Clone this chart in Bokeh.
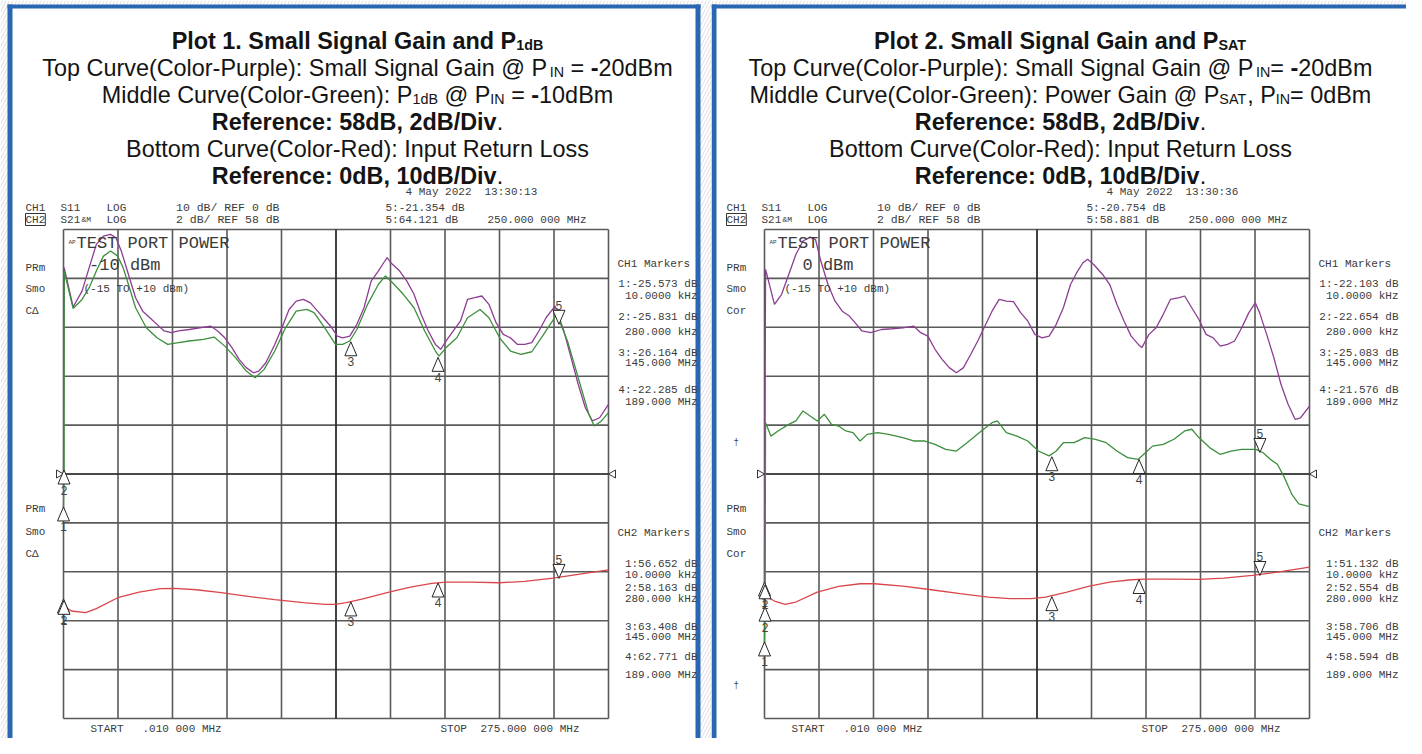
from bokeh.plotting import figure
from bokeh.models import Label, Range1d
from bokeh.layouts import row
from bokeh.embed import file_html
from bokeh.resources import INLINE

# ------------------------------------------------------------------ data
# frequency axis (MHz), sweep .010 MHz -> 275 MHz
F0, F1 = 0.01, 275.0

# Plot 1 - purple: small signal gain (S21, dB)
p1_purple_f = [0.01, 0.36, 4.86, 9.37, 12.97, 16.57, 20.17, 23.77, 26.47, 29.18, 32.78, 36.38, 39.98, 43.58,
               47.19, 50.79, 54.39, 57.99, 63.40, 68.80, 74.20, 77.80, 81.41, 85.01, 88.61, 92.21, 95.81,
               98.51, 102.12, 106.62, 110.22, 113.82, 117.43, 121.03, 124.63, 128.23, 131.83, 135.44,
               138.14, 140.84, 144.44, 148.04, 151.64, 155.25, 158.85, 161.55, 163.35, 165.15, 169.65,
               173.26, 176.86, 180.46, 184.06, 187.66, 190.36, 193.07, 196.67, 200.27, 203.87, 207.48,
               211.08, 214.68, 218.28, 221.88, 225.49, 229.09, 232.69, 236.29, 239.89, 243.50, 248.00,
               252.50, 256.10, 259.71, 263.31, 266.91, 270.51, 275.0]
p1_purple_db = [57.5, 66.44, 64.83, 65.48, 66.44, 67.39, 67.73, 67.80, 67.66, 67.12, 66.16, 65.21, 64.66, 64.39,
                64.12, 63.85, 63.78, 63.85, 63.91, 63.98, 64.05, 63.85, 63.57, 63.17, 62.69, 62.35, 62.14,
                62.21, 62.55, 63.30, 63.98, 64.73, 65.07, 65.14, 65.00, 64.66, 64.32, 63.98, 63.64, 63.57,
                63.64, 64.12, 64.80, 65.89, 66.30, 66.64, 66.85, 66.64, 66.30, 65.89, 65.35, 64.53, 63.85,
                63.30, 63.10, 63.44, 63.85, 64.25, 65.14, 65.21, 65.28, 64.94, 64.19, 63.71, 63.57, 63.30,
                63.30, 63.37, 63.85, 64.39, 64.87, 63.85, 62.76, 61.67, 60.71, 60.17, 60.30, 60.85]

# Plot 1 - green: P1dB gain (S21, dB)
p1_green_f = [0.01, 0.28, 0.36, 4.86, 9.37, 12.97, 16.57, 20.17, 23.77, 27.38, 30.08, 32.78, 36.38, 41.78,
              47.19, 52.59, 57.99, 63.40, 70.60, 76.00, 81.41, 86.81, 92.21, 96.71, 101.22, 106.62, 112.02,
              117.43, 122.83, 126.43, 131.83, 137.24, 140.84, 144.44, 148.04, 153.45, 158.85, 162.45,
              166.05, 171.46, 176.86, 182.26, 187.66, 189.47, 193.07, 198.47, 203.87, 210.18, 214.68,
              220.08, 225.49, 230.89, 236.29, 241.69, 248.90, 254.30, 259.71, 265.11, 267.81, 271.41, 275.0]
p1_green_db = [56.65, 58.16, 66.30, 64.77, 65.14, 65.62, 66.30, 66.91, 67.12, 66.91, 66.44, 65.75, 64.80,
               63.98, 63.57, 63.30, 63.37, 63.44, 63.51, 63.60, 63.23, 62.76, 62.21, 61.94, 62.28, 63.03,
               63.98, 64.66, 64.73, 64.60, 63.98, 63.30, 63.30, 63.44, 63.91, 64.94, 65.75, 66.10, 65.82,
               65.35, 64.80, 63.85, 63.03, 62.82, 63.17, 63.57, 64.39, 64.73, 64.39, 63.57, 63.03, 62.89,
               63.00, 63.64, 64.53, 63.44, 61.94, 60.44, 59.96, 60.17, 60.51]

# Plot 1 - red: input return loss (S11, dB)
p1_red_f = [0.01, 3.96, 11.17, 16.57, 27.38, 38.18, 48.99, 56.19, 67.00, 79.60, 92.21, 106.62, 121.03,
            131.83, 137.24, 142.64, 151.64, 164.25, 175.06, 185.86, 193.07, 205.67, 220.08, 232.69,
            247.10, 259.71, 275.0]
p1_red_db = [-26.9, -28.02, -28.36, -27.54, -25.30, -24.14, -23.46, -23.40, -23.67, -24.28, -24.96, -25.71,
             -26.32, -26.66, -26.66, -26.32, -25.50, -24.14, -23.12, -22.38, -22.10, -22.10, -22.24,
             -21.97, -21.29, -20.54, -19.59]

# Plot 2 - purple: small signal gain (S21, dB)
p2_purple_f = [0.01, 0.54, 5.04, 8.64, 12.24, 15.84, 19.44, 23.04, 25.74, 28.44, 32.03, 35.63, 39.23, 42.83,
               46.43, 49.13, 53.63, 59.03, 64.43, 69.83, 75.23, 78.83, 82.43, 86.03, 89.63, 93.22, 96.82,
               100.42, 104.02, 107.62, 111.22, 114.82, 118.42, 122.02, 125.62, 129.22, 132.82, 136.42,
               140.02, 143.62, 147.22, 150.81, 154.41, 158.01, 160.71, 163.05, 166.11, 170.61, 174.21,
               177.81, 181.41, 185.01, 188.61, 190.41, 194.01, 197.61, 201.21, 204.81, 209.31, 212.00,
               215.60, 219.20, 222.80, 226.40, 230.00, 233.60, 237.20, 240.80, 244.40, 247.64, 249.80,
               253.40, 257.00, 260.60, 264.20, 267.80, 270.50, 275.00]
p2_purple_db = [53.5, 66.37, 64.94, 65.35, 66.16, 66.98, 67.53, 67.69, 67.59, 66.71, 65.75, 65.07, 64.66,
                64.46, 64.12, 63.85, 63.78, 63.91, 63.94, 63.98, 64.05, 63.78, 63.64, 63.10, 62.69, 62.35,
                62.14, 62.35, 62.89, 63.44, 64.05, 64.66, 65.14, 65.07, 65.05, 64.60, 64.26, 63.71, 63.57,
                63.64, 64.12, 64.80, 65.75, 66.30, 66.64, 66.78, 66.57, 66.16, 65.75, 64.94, 64.26, 63.64,
                63.30, 63.17, 63.71, 63.98, 64.53, 65.14, 65.21, 65.28, 64.80, 64.32, 63.71, 63.57, 63.23,
                63.30, 63.44, 63.98, 64.60, 65.00, 64.60, 63.71, 62.76, 61.67, 60.85, 60.23, 60.30, 60.78]

# Plot 2 - green: power gain @ PSAT (S21, dB)
p2_green_f = [0.01, 0.28, 0.54, 3.24, 6.84, 12.24, 15.84, 19.44, 23.04, 26.64, 30.24, 33.83, 37.43, 41.03,
              44.63, 48.23, 51.83, 57.23, 62.63, 69.83, 75.23, 80.63, 86.03, 91.42, 96.82, 102.22, 109.42,
              114.82, 117.52, 122.02, 127.42, 132.82, 138.22, 143.62, 147.22, 150.81, 156.21, 161.61,
              167.01, 172.41, 177.81, 183.21, 188.61, 192.21, 195.81, 201.21, 206.61, 212.00, 215.60,
              219.20, 224.60, 230.00, 235.40, 240.80, 248.00, 251.60, 255.20, 258.80, 262.40, 266.00,
              269.60, 275.00]
p2_green_db = [51.13, 52.55, 60.10, 59.55, 59.76, 60.03, 60.17, 60.58, 60.37, 60.17, 60.44, 60.03, 59.96,
               59.76, 59.69, 59.35, 59.62, 59.69, 59.62, 59.49, 59.35, 59.35, 59.21, 59.01, 58.94, 59.28,
               59.76, 60.10, 60.17, 59.69, 59.55, 59.35, 58.94, 58.74, 58.94, 59.28, 59.28, 59.49, 59.42,
               59.28, 58.94, 58.67, 58.60, 58.87, 59.14, 59.21, 59.42, 59.76, 59.83, 59.49, 59.08, 58.80,
               58.94, 59.01, 59.01, 58.87, 58.60, 58.40, 57.85, 57.18, 56.78, 56.67]

# Plot 2 - red: input return loss (S11, dB)
p2_red_f = [0.01, 5.04, 10.44, 15.84, 26.64, 37.43, 48.23, 55.43, 69.83, 84.23, 98.62, 113.02, 123.82,
            134.62, 141.82, 152.61, 163.41, 174.21, 185.01, 192.21, 204.81, 219.20, 231.80, 246.20,
            258.80, 275.00]
p2_red_db = [-24.82, -25.98, -26.66, -26.18, -24.14, -22.99, -22.44, -22.44, -22.92, -23.67, -24.48,
             -25.16, -25.50, -25.50, -25.16, -24.14, -22.99, -22.10, -21.63, -21.49, -21.49, -21.56,
             -21.29, -20.74, -20.06, -19.04]

# marker readouts
mk_freq = [0.01, 0.28, 145.0, 189.0, 250.0]
mk_freq_lbl = ["10.0000 kHz", "280.000 kHz", "145.000 MHz", "189.000 MHz", "250.000 000 MHz"]
p1_ch1_mk = [-25.573, -25.831, -26.164, -22.285, -21.354]
p1_ch2_mk = [56.652, 58.163, 63.408, 62.771, 64.121]
p2_ch1_mk = [-22.103, -22.654, -25.083, -21.576, -20.754]
p2_ch2_mk = [51.132, 52.554, 58.706, 58.594, 58.881]

# channel settings
S21_REF, S21_DIV = 58.0, 2.0
S11_REF, S11_DIV = 0.0, 10.0

# ------------------------------------------------------------------ layout constants
FW, FH = 545, 489            # graticule size in px
FIG_H = 738
FTOP = 229
SANS, MONO = "Liberation Sans", "Liberation Mono"
INK = "#3b3b3b"
PURPLE, GREEN, RED = "#8e3d94", "#3d8f3d", "#d9464b"
GRIDC = "#5a5a5a"
BLUE = "#2a67b3"

S21_TOP = S21_REF + 5 * S21_DIV
S21_BOT = S21_REF - 5 * S21_DIV
S11_TOP = S11_REF + 5 * S11_DIV
S11_BOT = S11_REF - 5 * S11_DIV
SX = (F1 - F0) / FW                 # MHz per px
SY = (S21_TOP - S21_BOT) / FH       # dB per px (S21)
SY11 = (S11_TOP - S11_BOT) / FH     # dB per px (S11)

ARIAL = {' ': 278, '(': 333, ')': 333, '-': 333, '.': 278, ',': 278, '/': 278, ':': 278, '=': 584,
         '@': 1015, 'A': 667, 'B': 667, 'C': 722, 'D': 722, 'E': 667, 'F': 611, 'G': 778, 'H': 722,
         'I': 278, 'L': 556, 'M': 833, 'N': 722, 'O': 778, 'P': 667, 'R': 722, 'S': 667, 'T': 611,
         'a': 556, 'b': 556, 'c': 500, 'd': 556, 'e': 556, 'f': 278, 'g': 556, 'h': 556, 'i': 222,
         'l': 222, 'm': 833, 'n': 556, 'o': 556, 'p': 556, 'r': 333, 's': 500, 't': 278, 'u': 556,
         'v': 500, 'w': 722, 'y': 500}
ARIAL_B = {' ': 278, '(': 333, ')': 333, '-': 333, '.': 278, ',': 278, '/': 278, ':': 333, '=': 584,
           '@': 975, 'A': 722, 'B': 722, 'C': 722, 'D': 722, 'E': 667, 'F': 611, 'G': 778, 'I': 278,
           'L': 611, 'M': 833, 'N': 722, 'P': 667, 'R': 722, 'S': 667, 'T': 611,
           'a': 556, 'b': 611, 'c': 556, 'd': 611, 'e': 556, 'f': 333, 'g': 611, 'i': 278, 'l': 278,
           'm': 889, 'n': 611, 'o': 611, 'r': 389, 's': 556, 't': 333, 'u': 611, 'v': 556}


def text_w(s, size, bold):
    tbl = ARIAL_B if bold else ARIAL
    return sum(tbl.get(c, 556) for c in s) * size / 1000.0


def X(dx):
    return F0 + dx * SX


def Y(dy):
    return S21_TOP - dy * SY


def lab(p, dx, dy, text, size=11, font=MONO, align="left", baseline="middle", color=INK, bold=False, **kw):
    p.add_layout(Label(x=X(dx), y=Y(dy), text=text, text_font=font, text_font_size=f"{size}px",
                       text_align=align, text_baseline=baseline, text_color=color,
                       text_font_style="bold" if bold else "normal", **kw))


BIG, SUB = 23.4, 14.3


def title_line(p, segs, dy_base, cx):
    total = sum(text_w(s, SUB if sub else BIG, b) for s, b, sub in segs)
    x = cx - total / 2
    for s, b, sub in segs:
        size = SUB if sub else BIG
        w = text_w(s, size, b)
        lead = len(s) - len(s.lstrip(" "))
        t = s.strip(" ")
        if t:
            lab(p, x + text_w(" " * lead, size, b), dy_base + (4 if sub else 0), t, size=size, font=SANS,
                baseline="alphabetic", color="#141414", bold=b)
        x += w


def tri(p, f, v, up, rng, num):
    k = SY11 if rng == "s11" else SY
    hx = 6 * SX
    h = 14 * k
    if up:
        ys = [v, v - h, v - h]
        ny = v - 20 * k
    else:
        ys = [v, v + h, v + h]
        ny = v + 19 * k
    xs = [f, f - hx, f + hx]
    p.patch(xs, ys, fill_color="white", line_color="#262626", line_width=1,
            y_range_name=("s11" if rng == "s11" else "default"))
    p.text([f], [ny], text=[num], text_font_size="12px", text_align="center", text_baseline="middle",
           text_color="#444444", y_range_name=("s11" if rng == "s11" else "default"))


def rect(p, dx0, dx1, dy0, dy1, **kw):
    p.quad(left=[X(dx0)], right=[X(dx1)], top=[Y(dy0)], bottom=[Y(dy1)], **kw)


def make_panel(fig_w, frame_left, spec):
    L, T = frame_left, FTOP
    p = figure(width=fig_w, height=FIG_H,
               x_range=Range1d(F0 - L * SX, F0 + (fig_w - L) * SX),
               y_range=Range1d(S21_TOP - (FIG_H - T) * SY, S21_TOP + T * SY),
               output_backend="svg", toolbar_location=None, title_location=None,
               x_axis_location=None, y_axis_location=None,
               min_border=0, min_border_left=0, min_border_right=0, min_border_top=0, min_border_bottom=0)
    p.extra_y_ranges = {"s11": Range1d(S11_TOP - (FIG_H - T) * SY11, S11_TOP + T * SY11)}
    p.xgrid.visible = False
    p.ygrid.visible = False
    p.background_fill_color = "white"
    p.border_fill_color = "white"
    p.outline_line_color = None

    # blue panel frame and hatched surround
    for (a, b, c, d) in spec["hatch"]:
        rect(p, a, b, c, d, fill_color="white", line_alpha=0, hatch_pattern="/", hatch_color="#d4d4d4",
             hatch_scale=7, hatch_weight=0.8)
    for (a, b, c, d) in spec["frame"]:
        rect(p, a, b, c, d, fill_color=BLUE, line_alpha=0)

    # graticule
    xt = [F0 + i * (F1 - F0) / 10 for i in range(11)]
    yt = [S21_BOT + i * S21_DIV for i in range(11)]
    p.segment(x0=xt, y0=[S21_BOT] * 11, x1=xt, y1=[S21_TOP] * 11, line_color=GRIDC, line_width=1.6)
    p.segment(x0=[F0] * 11, y0=yt, x1=[F1] * 11, y1=yt, line_color=GRIDC, line_width=1.6)
    p.segment(x0=[xt[5]], y0=[S21_BOT], x1=[xt[5]], y1=[S21_TOP], line_color="#111111", line_width=1.1)
    p.segment(x0=[F0], y0=[S21_REF], x1=[F1], y1=[S21_REF], line_color="#111111", line_width=1.1)

    # traces
    p.line(spec["purple_f"], spec["purple_db"], line_color=PURPLE, line_width=1.3)
    p.line(spec["green_f"], spec["green_db"], line_color=GREEN, line_width=1.3)
    p.line(spec["red_f"], spec["red_db"], line_color=RED, line_width=1.3, y_range_name="s11")

    # reference position arrows
    p.patch([F0 - 7 * SX, F0 - 7 * SX, F0], [S21_REF + 4 * SY, S21_REF - 4 * SY, S21_REF],
            fill_color="white", line_color="#333333", line_width=1)
    p.patch([F1 + 7 * SX, F1 + 7 * SX, F1], [S21_REF + 4 * SY, S21_REF - 4 * SY, S21_REF],
            fill_color="white", line_color="#333333", line_width=1)

    # markers (1-4 below trace, active marker 5 above)
    for i in range(5):
        up = i < 4
        tri(p, mk_freq[i], spec["ch2_mk"][i], up, "default", str(i + 1))
        tri(p, mk_freq[i], spec["ch1_mk"][i], up, "s11", str(i + 1))

    # title block
    for j, segs in enumerate(spec["title"]):
        title_line(p, segs, -189 + 27 * j, spec["cx"])

    # instrument header
    lab(p, 342, -38, "4 May 2022")
    lab(p, 421, -38, spec["time"])
    lab(p, -38, -22, "CH1")
    lab(p, -3, -22, "S11")
    lab(p, 43, -22, "LOG")
    lab(p, 216, -22, f"{S11_DIV:.0f} dB/ REF {S11_REF:.0f} dB", align="right", size=11.5)
    lab(p, -38, -10, "CH2", border_line_color="#333333", border_line_width=1)
    lab(p, -3, -10, "S21")
    lab(p, 18, -10, "&M", size=8)
    lab(p, 43, -10, "LOG")
    lab(p, 216, -10, f"{S21_DIV:.0f} dB/ REF {S21_REF:.0f} dB", align="right", size=11.5)
    lab(p, 322, -22, f"5:{spec['ch1_mk'][4]:.3f} dB")
    lab(p, 322, -10, f"5:{spec['ch2_mk'][4]:.3f} dB")
    lab(p, 424, -10, mk_freq_lbl[4])

    # stimulus text inside graticule
    lab(p, 5, 13, "AP", size=6)
    lab(p, 13, 14, "TEST PORT POWER", size=17)
    lab(p, spec["pow_end"], 36, spec["power"], size=17, align="right")
    lab(p, 20, 59, "(-15 TO +10 dBm)", size=11)

    # side annotations
    for dy, t in zip([38, 59, 81], ["PRm", "Smo", spec["cal"]]):
        lab(p, -38, dy, t)
    for dy, t in zip([279, 302, 324], ["PRm", "Smo", spec["cal"]]):
        lab(p, -38, dy, t)
    for dy in spec["daggers"]:
        lab(p, -31, dy, "\u2020", size=9)

    # marker tables
    lab(p, 554, 34, "CH1 Markers")
    for i, (vy, fy) in enumerate(zip([54, 87, 123, 160], [66, 102, 133, 172])):
        lab(p, 634, vy, f"{i + 1}:{spec['ch1_mk'][i]:.3f} dB", align="right")
        lab(p, 634, fy, mk_freq_lbl[i], align="right")
    lab(p, 554, 303, "CH2 Markers")
    for i, (vy, fy) in enumerate(zip([334, 358, 397, 427], [345, 369, 407, 445])):
        lab(p, 634, vy, f"{i + 1}:{spec['ch2_mk'][i]:.3f} dB", align="right")
        lab(p, 634, fy, mk_freq_lbl[i], align="right")

    # sweep limits
    lab(p, 27, 499, "START")
    lab(p, 79, 499, ".010 000 MHz")
    lab(p, 377, 499, "STOP")
    lab(p, 417, 499, f"{F1:.3f} 000 MHz")
    return p


R, B = False, True
common_tail = [
    [("Reference: 58dB, 2dB/Div", B, False), (".", R, False)],
    [("Bottom Curve(Color-Red): Input Return Loss", R, False)],
    [("Reference: 0dB, 10dB/Div", B, False), (".", R, False)],
]
spec1 = dict(
    purple_f=p1_purple_f, purple_db=p1_purple_db, green_f=p1_green_f, green_db=p1_green_db,
    red_f=p1_red_f, red_db=p1_red_db, ch1_mk=p1_ch1_mk, ch2_mk=p1_ch2_mk,
    time="13:30:13", power="-10 dBm", pow_end=97, cal="C\u0394", daggers=[], cx=294,
    # relative to graticule: left edge of figure is dx=-63, top is dy=-229
    hatch=[(-63, -56, -229, 520), (-63, 648, -229, -225), (637, 648, -229, 520)],
    frame=[(-56, -51, -225, 520), (-56, 637, -225, -221), (632, 637, -225, 520)],
    title=[
        [("Plot 1. Small Signal Gain and P", B, False), ("1dB", B, True)],
        [("Top Curve(Color-Purple): Small Signal Gain @ P", R, False), ("IN", R, True), (" = ", R, False),
         ("-", B, False), ("20dBm", R, False)],
        [("Middle Curve(Color-Green): P", R, False), ("1dB", R, True), (" @ P", R, False), ("IN", R, True),
         (" = ", R, False), ("-", B, False), ("10dBm", R, False)],
    ] + common_tail,
)
spec2 = dict(
    purple_f=p2_purple_f, purple_db=p2_purple_db, green_f=p2_green_f, green_db=p2_green_db,
    red_f=p2_red_f, red_db=p2_red_db, ch1_mk=p2_ch1_mk, ch2_mk=p2_ch2_mk,
    time="13:30:36", power="0 dBm", pow_end=89, cal="Cor", daggers=[213, 456], cx=296,
    # relative to graticule: left edge of figure is dx=-53
    hatch=[(-53, 642, -229, -225), (650, 642 + 5, -229, 520)],
    frame=[(-53, -48, -225, 520), (-53, 651, -225, -221), (646, 651, -225, 520)],
    title=[
        [("Plot 2. Small Signal Gain and P", B, False), ("SAT", B, True)],
        [("Top Curve(Color-Purple): Small Signal Gain @ P", R, False), ("IN", R, True), ("= ", R, False),
         ("-", B, False), ("20dBm", R, False)],
        [("Middle Curve(Color-Green): Power Gain @ P", R, False), ("SAT", R, True), (", P", R, False),
         ("IN", R, True), ("= 0dBm", R, False)],
    ] + common_tail,
)

p1 = make_panel(711, 63, spec1)
p2 = make_panel(695, 53, spec2)
layout = row(p1, p2, spacing=0)

open("out.html", "w").write(file_html(layout, INLINE))
